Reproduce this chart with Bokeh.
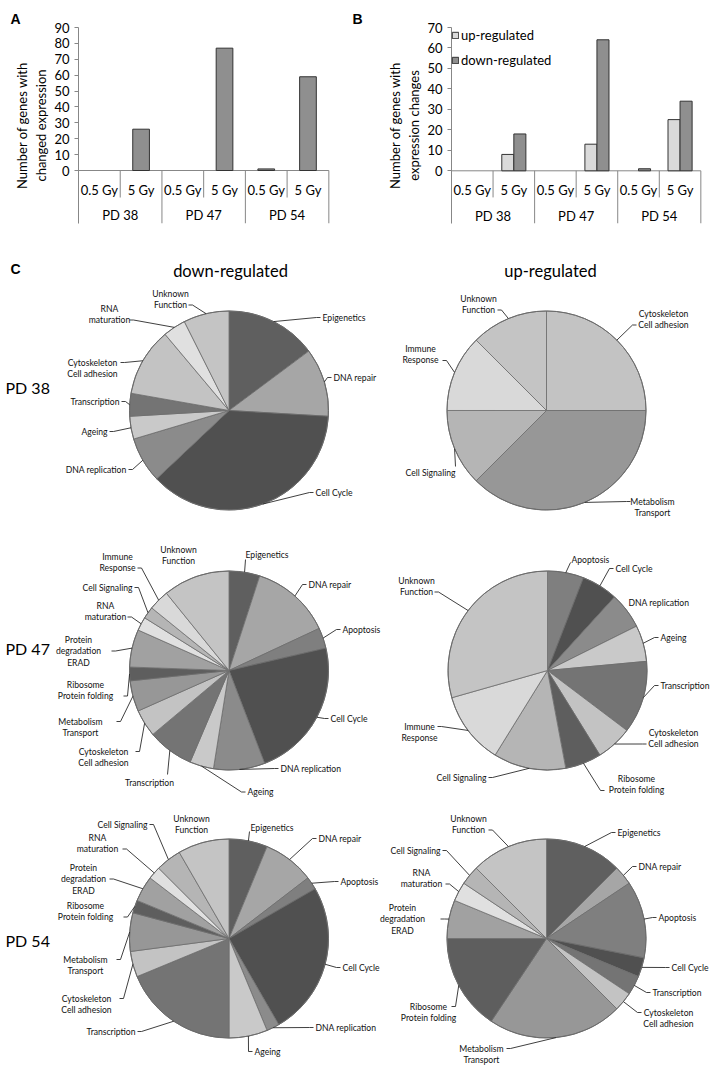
import math
from bokeh.plotting import figure
from bokeh.models import Range1d, FixedTicker, Legend, LegendItem, ColumnDataSource
from bokeh.layouts import column, row
from bokeh.embed import file_html
from bokeh.resources import INLINE
from bokeh.core.properties import value

FONT = "Lato"
BOLD_FONT = "Liberation Sans"
LINE = "#878787"

# ---------------- data: panels A and B ----------------
groups = ["PD 38", "PD 47", "PD 54"]
doses = ["0.5 Gy", "5 Gy"]
changed_expression = [0, 26, 0, 77, 1, 59]
up_regulated = [0, 8, 0, 13, 0, 25]
down_regulated = [0, 18, 0, 64, 1, 34]
ticks_a = [0, 10, 20, 30, 40, 50, 60, 70, 80, 90]
ticks_b = [0, 10, 20, 30, 40, 50, 60, 70]

# ---------------- data: panel C (gene counts per function) ----------------
functions = ["Epigenetics", "DNA repair", "Apoptosis", "Cell Cycle", "DNA replication",
             "Ageing", "Transcription", "Cytoskeleton\nCell adhesion", "Metabolism\nTransport",
             "Ribosome\nProtein folding", "Protein\ndegradation\nERAD", "RNA\nmaturation",
             "Cell Signaling", "Immune\nResponse", "Unknown\nFunction"]
function_colors = ["#5f5f5f", "#a6a6a6", "#7f7f7f", "#505050", "#8b8b8b",
                   "#c9c9c9", "#747474", "#c3c3c3", "#979797",
                   "#5e5e5e", "#a1a1a1", "#e0e0e0",
                   "#b5b5b5", "#d9d9d9", "#c4c4c4"]
pd38_down = [4, 3, 0, 10, 2, 1, 1, 3, 0, 0, 0, 1, 0, 0, 2]
pd38_up = [0, 0, 0, 0, 0, 0, 0, 2, 3, 0, 0, 0, 1, 1, 1]
pd47_down = [18, 47, 12, 82, 30, 14, 27, 16, 18, 8, 22, 8, 7, 12, 39]
pd47_up = [0, 0, 1, 1, 1, 1, 2, 1, 0, 1, 0, 0, 2, 2, 5]
pd54_down = [3, 4, 1, 12, 1, 3, 9, 2, 3, 1, 2, 1, 2, 0, 4]
pd54_up = [4, 1, 4, 1, 0, 0, 1, 1, 7, 5, 2, 1, 1, 0, 4]
directions = ["down-regulated", "up-regulated"]

# ---------------- label layout (page pixel space) ----------------
EPI, DNR, APO, CC, DNP, AGE, TRA, CYT, MET, RIB, PRO, RNA, SIG, IMM, UNK = functions

# name -> (text x, first-line y, align, leader end x, leader end y[, elbow])
lab_38d = {EPI: (322, 317, "left", 320, 317), DNR: (333, 377, "left", 331, 377),
           CC: (315, 492, "left", 313, 492), DNP: (126, 469, "right", 128, 469),
           AGE: (107, 431, "right", 109, 431), TRA: (119, 401, "right", 121, 401),
           CYT: (92, 362, "center", 120, 362), RNA: (109, 308, "center", 129, 319.5),
           UNK: (170, 293, "center", 188, 304.5)}
lab_38u = {CYT: (663, 313, "center", 636, 324.5), MET: (652, 501, "center", 630, 501),
           SIG: (455, 472, "right", 455, 466, 0), IMM: (420, 348, "center", 442, 360),
           UNK: (478, 298, "center", 497, 309.5)}
lab_47d = {EPI: (245, 554, "left", 245, 559, 0), DNR: (308, 584, "left", 306, 584),
           APO: (342, 629, "left", 340, 629), CC: (330, 718, "left", 328, 718),
           DNP: (280, 768, "left", 278, 768), AGE: (247, 791.5, "left", 245, 791.5),
           TRA: (149, 782, "center", 167, 774, 0), CYT: (103, 751, "center", 135, 751),
           MET: (80, 721, "center", 116, 721), RIB: (85, 684, "center", 123, 695.5),
           PRO: (78, 639, "center", 111, 650.5), RNA: (105, 605, "center", 127, 616.5),
           SIG: (132, 587, "right", 134, 587), IMM: (117, 556, "center", 137, 567.5),
           UNK: (178, 549, "center", None, None)}
lab_47u = {APO: (571, 559, "left", 570, 562, 0), CC: (615, 568, "left", 613, 568),
           DNP: (628, 602, "left", None, None), AGE: (660, 637, "left", 658, 637),
           TRA: (660, 685, "left", 658, 685), CYT: (673, 732, "center", 646, 743.5),
           RIB: (636, 778, "center", 604, 790), SIG: (486, 777, "right", 488, 777),
           IMM: (419, 726, "center", 437, 726), UNK: (416, 580, "center", 434, 591.5)}
lab_54d = {EPI: (250, 827, "left", 249, 831, 0), DNR: (318, 838, "left", 316, 838),
           APO: (340, 881, "left", 338, 881), CC: (342, 967, "left", 340, 967),
           DNP: (315, 1027, "left", 313, 1027), AGE: (254, 1051, "left", 252, 1051),
           TRA: (135, 1031, "right", 137, 1031), CYT: (86, 998, "center", 119, 998),
           MET: (85, 959, "center", 116, 959), RIB: (85, 905, "center", 123, 916.5),
           PRO: (83, 867, "center", 109, 878.5), RNA: (97, 837, "center", 122, 848.5),
           SIG: (147, 824, "right", 149, 824), UNK: (191, 818, "center", None, None)}
lab_54u = {EPI: (617, 832, "left", 615, 832), DNR: (638, 866, "left", 636, 866),
           APO: (658, 917, "left", 656, 917), CC: (671, 967, "left", 669, 967),
           TRA: (652, 992, "left", 650, 992), CYT: (668, 1012, "center", 641, 1012),
           MET: (481, 1048, "center", 506, 1048), RIB: (428, 1006, "center", 451, 1006),
           PRO: (402, 907, "center", 440, 918.5), RNA: (421, 872, "center", 445, 883.5),
           SIG: (440, 850, "right", 442, 850), UNK: (468, 818, "center", 488, 829.5)}

TOP_H = 258


def bar_figure(width, left, right, ymin, ymax, ticks, ylabel, letter, letter_offset):
    p = figure(width=width, height=TOP_H, x_range=Range1d(0, 6.04), y_range=Range1d(ymin, ymax),
               output_backend="svg", toolbar_location=None, x_axis_location=None,
               min_border_left=left, min_border_right=right, min_border_top=27, min_border_bottom=35)
    p.outline_line_color = None
    p.grid.visible = False
    p.title.text = letter
    p.title.align = "left"
    p.title.offset = letter_offset
    p.title.standoff = 1
    p.title.text_font = BOLD_FONT
    p.title.text_font_style = "bold"
    p.title.text_font_size = "14px"
    p.title.text_color = "black"
    ax = p.yaxis[0]
    ax.ticker = FixedTicker(ticks=ticks)
    ax.minor_tick_line_color = None
    ax.major_tick_in = 0
    ax.major_tick_out = 4
    ax.axis_line_color = LINE
    ax.major_tick_line_color = LINE
    ax.major_label_text_font = FONT
    ax.major_label_text_font_size = "13px"
    ax.major_label_text_color = "black"
    ax.major_label_standoff = 5
    ax.axis_label = ylabel
    ax.axis_label_text_font = FONT
    ax.axis_label_text_font_size = "13px"
    ax.axis_label_text_font_style = "normal"
    ax.axis_label_text_color = "black"
    ax.axis_label_standoff = 2
    return p


def category_table(p, ymin, inner_y, dose_y, group_y):
    n = len(groups) * len(doses)
    p.segment(x0=[0], y0=[0], x1=[n], y1=[0], line_color=LINE, line_width=1)
    inner = [g * len(doses) + k for g in range(len(groups)) for k in range(1, len(doses))]
    p.segment(x0=inner, y0=[0] * len(inner), x1=inner, y1=[inner_y] * len(inner),
              line_color=LINE, line_width=1)
    outer = [g * len(doses) for g in range(1, len(groups) + 1)]
    p.segment(x0=outer, y0=[0] * len(outer), x1=outer, y1=[ymin] * len(outer),
              line_color=LINE, line_width=1)
    p.text(x=[i + 0.5 for i in range(n)], y=[dose_y] * n, text=doses * len(groups),
           text_align="center", text_baseline="middle", text_font=value(FONT),
           text_font_size="13px", text_color="black")
    p.text(x=[g * len(doses) + len(doses) / 2 for g in range(len(groups))], y=[group_y] * len(groups),
           text=groups, text_align="center", text_baseline="middle", text_font=value(FONT),
           text_font_size="13px", text_color="black")


# ---------------- panel A ----------------
ya_min = -33.35
pA = bar_figure(350, 78, 20, ya_min, 90, ticks_a, "Number of genes with\nchanged expression", "A", -68)
category_table(pA, ya_min, -17.0, -11.96, -28.3)
xa = [i + 0.5 for i, v in enumerate(changed_expression) if v > 0]
ta = [v for v in changed_expression if v > 0]
pA.vbar(x=xa, top=ta, bottom=0, width=0.4, fill_color="#8f8f8f", line_color="#333333", line_width=1)

# ---------------- panel B ----------------
yb_min = -25.74
pB = bar_figure(364, 101, 12, yb_min, 70, ticks_b, "Number of genes with\nexpression changes", "B", -99)
category_table(pB, yb_min, -13.0, -9.4, -22.0)
src_up = ColumnDataSource(dict(x=[i + 0.5 - 0.145 for i, v in enumerate(up_regulated) if v > 0],
                               top=[v for v in up_regulated if v > 0]))
src_dn = ColumnDataSource(dict(x=[i + 0.5 + 0.145 for i, v in enumerate(down_regulated) if v > 0],
                               top=[v for v in down_regulated if v > 0]))
r_up = pB.vbar(x="x", top="top", bottom=0, width=0.29, source=src_up,
               fill_color="#dadada", line_color="#333333", line_width=1)
r_dn = pB.vbar(x="x", top="top", bottom=0, width=0.29, source=src_dn,
               fill_color="#8f8f8f", line_color="#333333", line_width=1)
leg = Legend(items=[LegendItem(label="up-regulated", renderers=[r_up]),
                    LegendItem(label="down-regulated", renderers=[r_dn])],
             location="top_left", margin=0, padding=10, spacing=9, glyph_width=8, glyph_height=8,
             label_standoff=2, label_height=12, label_text_font=FONT, label_text_font_size="13px",
             label_text_color="black", border_line_color=None, background_fill_alpha=0)
pB.add_layout(leg)

# ---------------- panel C ----------------
C_H = 812
pC = figure(width=714, height=C_H, x_range=Range1d(0, 714), y_range=Range1d(-(TOP_H + C_H), -TOP_H),
            output_backend="svg", toolbar_location=None, x_axis_location=None,
            y_axis_location=None, min_border=0)
pC.outline_line_color = None
pC.grid.visible = False

R = 99.5
LH = 11.5
pies = [(pd38_down, 228.5, 410, lab_38d), (pd38_up, 546, 410, lab_38u),
        (pd47_down, 228.5, 670, lab_47d), (pd47_up, 547, 670, lab_47u),
        (pd54_down, 228.5, 938, lab_54d), (pd54_up, 546, 938, lab_54u)]

tx, ty, tt, ta_ = [], [], [], []
lx, ly = [], []
for vals, cx, cy, labs in pies:
    total = float(sum(vals))
    cum = 0.0
    st, en, cols = [], [], []
    for i, v in enumerate(vals):
        if v <= 0:
            continue
        th1 = cum / total * 2 * math.pi
        cum += v
        th2 = cum / total * 2 * math.pi
        st.append(math.pi / 2 - th1)
        en.append(math.pi / 2 - th2)
        cols.append(function_colors[i])
        name = functions[i]
        spec = labs.get(name)
        if spec is None:
            continue
        sx, sy, al, ex, ey = spec[:5]
        elbow = spec[5] if len(spec) > 5 else 4
        for j, line in enumerate(name.split("\n")):
            tx.append(sx)
            ty.append(-(sy + j * LH))
            tt.append(line)
            ta_.append(al)
        if ex is not None:
            thm = (th1 + th2) / 2
            rx = cx + R * math.sin(thm)
            ry = cy - R * math.cos(thm)
            sgn = 0 if abs(ex - sx) < 0.5 else (1 if ex > sx else -1)
            ebx = ex + sgn * elbow
            lx.append([rx, ebx, ex])
            ly.append([-ry, -ey, -ey])
    src = ColumnDataSource(dict(start=st, end=en, color=cols))
    pC.wedge(x=cx, y=-cy, radius=R, start_angle="start", end_angle="end", direction="clock",
             fill_color="color", line_color="#6c6c6c", line_width=0.8, source=src)
    pC.circle(x=[cx], y=[-cy], radius=R, fill_color=None, line_color="#6a6a6a", line_width=1)

pC.multi_line(xs=lx, ys=ly, line_color="#2a2a2a", line_width=0.9)
pC.text(x="x", y="y", text="t", text_align="a",
        source=ColumnDataSource(dict(x=tx, y=ty, t=tt, a=ta_)),
        text_baseline="middle", text_font=value(FONT), text_font_size="8.6px", text_color="#111111")

# headers
pC.text(x=[10], y=[-268], text=["C"], text_align="left", text_baseline="middle",
        text_font=value(BOLD_FONT), text_font_style="bold", text_font_size="14px", text_color="black")
pC.text(x=[230, 550], y=[-270, -270], text=directions, text_align="center", text_baseline="middle",
        text_font=value(FONT), text_font_size="16.5px", text_color="black")
pC.text(x=[5, 5, 5], y=[-387, -648, -940], text=groups, text_align="left", text_baseline="middle",
        text_font=value(FONT), text_font_size="16px", text_color="black")

layout = column(row(pA, pB, spacing=0), pC, spacing=0)
open("out.html", "w").write(file_html(layout, INLINE))
